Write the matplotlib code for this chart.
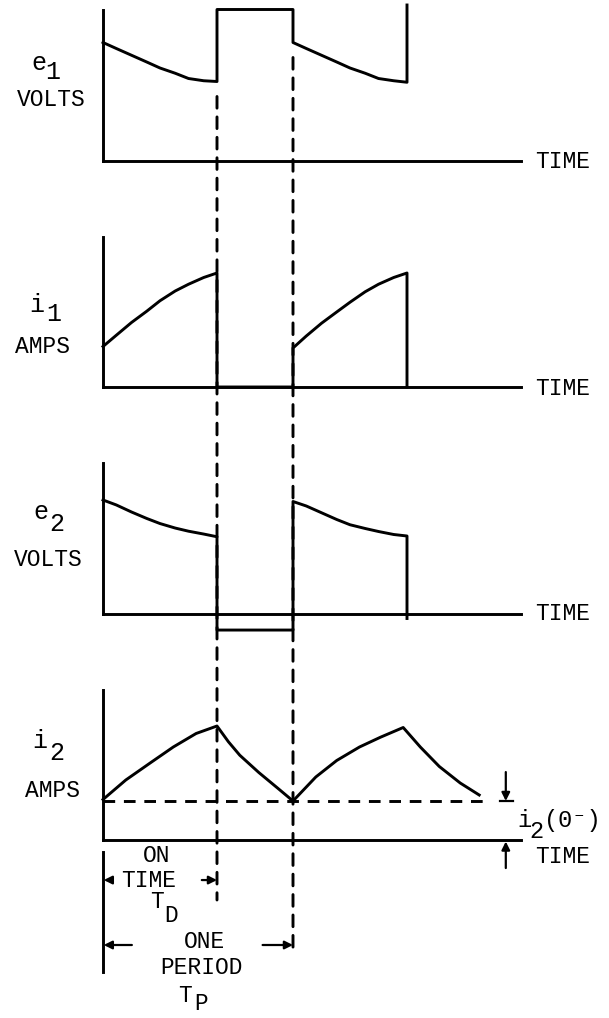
import matplotlib
matplotlib.use("Agg")
import matplotlib.pyplot as plt
from matplotlib.patches import ConnectionPatch

# typewriter look of the original figure
plt.rcParams['font.family'] = ['Liberation Mono', 'DejaVu Sans Mono']

# time axis (arbitrary units): on time T_D, one period T_P
T_D = 3.0
T_P = 5.0
T_END = 11.0

# sample times inside one on-time
t_on = [0, 0.35, 0.75, 1.15, 1.5, 1.9, 2.25, 2.65, 3.0]

# e1, volts
e1_on1 = [7.9, 7.5, 7.05, 6.6, 6.2, 5.85, 5.5, 5.35, 5.3]
e1_on2 = [7.9, 7.5, 7.05, 6.6, 6.2, 5.85, 5.5, 5.35, 5.25]
e1_high = 10.1

# i1, amps
i1_on1 = [2.7, 3.45, 4.3, 5.05, 5.75, 6.4, 6.85, 7.3, 7.6]
i1_on2 = [2.6, 3.4, 4.25, 5.0, 5.65, 6.35, 6.85, 7.3, 7.6]

# e2, volts
e2_on1 = [7.6, 7.27, 6.8, 6.37, 6.03, 5.73, 5.52, 5.33, 5.15]
e2_on2 = [7.5, 7.2, 6.75, 6.3, 5.95, 5.7, 5.5, 5.3, 5.2]
e2_low = -1.07

# i2, amps
i2_t = [0, 0.6, 1.25, 1.85, 2.45, 3.0, 3.3, 3.6, 4.1, 4.6, 5.0,
        5.6, 6.15, 6.75, 7.3, 7.9, 8.35, 8.85, 9.4, 9.9]
i2_v = [2.7, 4.0, 5.15, 6.2, 7.1, 7.6, 6.55, 5.65, 4.5, 3.45, 2.6,
        4.2, 5.3, 6.2, 6.85, 7.5, 6.2, 4.9, 3.8, 3.0]
i2_zero = 2.6   # i2(0-)
i2_dash_end = 10.1

# layout in output pixels
W, H = 609, 1018
PX_T = 38.0
PX_V = 15.0
T0_PX = 103
LW = 2.1
FS = 16.5     # small caps words
FS_SYM = 18   # e1, i1 ...


def panel(fig, top, bottom, base, axis_top):
    ax = fig.add_axes([0, 1 - bottom / H, 1, (bottom - top) / H])
    ax.set_xlim(-T0_PX / PX_T, (W - T0_PX) / PX_T)
    ax.set_ylim((base - bottom) / PX_V, (base - top) / PX_V)
    ax.patch.set_visible(False)
    ax.set_xticks([])
    ax.set_yticks([])
    for s in ['top', 'right']:
        ax.spines[s].set_visible(False)
    ax.spines['left'].set_position(('data', 0))
    ax.spines['bottom'].set_position(('data', 0))
    ax.spines['left'].set_bounds(0, axis_top)
    ax.spines['bottom'].set_bounds(0, T_END)
    for s in ['left', 'bottom']:
        ax.spines[s].set_linewidth(LW)
        ax.spines[s].set_capstyle('projecting')
    return ax


def sub_label(ax, main_xy, sub_xy, main, sub, fs=FS_SYM):
    ax.text(*main_xy, main, ha='center', va='center', fontsize=fs)
    ax.text(*sub_xy, sub, ha='center', va='center', fontsize=fs)


def pulse_trace(on1, on2, off_level, end_level):
    t = t_on + [T_D, T_P] + [T_P + x for x in t_on] + [T_P + T_D]
    v = on1 + [off_level, off_level] + on2 + [end_level]
    return t, v


fig = plt.figure(figsize=(W / 100, H / 100), dpi=100)

ax1 = panel(fig, 0, 225, 161, 10.07)
ax2 = panel(fig, 225, 450, 387, 10.0)
ax3 = panel(fig, 450, 675, 614, 10.07)
ax4 = panel(fig, 675, 1018, 840, 10.0)

# e1
t, v = pulse_trace(e1_on1, e1_on2, e1_high, 10.4)
ax1.plot(t, v, color='black', lw=LW, clip_on=False)
sub_label(ax1, (-1.68, 6.53), (-1.32, 5.93), 'e', '1')
ax1.text(-1.37, 4.07, 'VOLTS', ha='center', va='center', fontsize=FS)

# i1
t, v = pulse_trace(i1_on1, i1_on2, 0, 0)
ax2.plot(t, v, color='black', lw=LW)
sub_label(ax2, (-1.74, 5.47), (-1.29, 4.87), 'i', '1')
ax2.text(-1.6, 2.67, 'AMPS', ha='center', va='center', fontsize=FS)

# e2
t, v = pulse_trace(e2_on1, e2_on2, e2_low, -0.3)
ax3.plot(t, v, color='black', lw=LW)
sub_label(ax3, (-1.63, 6.8), (-1.21, 6.0), 'e', '2')
ax3.text(-1.45, 3.6, 'VOLTS', ha='center', va='center', fontsize=FS)

# i2
ax4.plot(i2_t, i2_v, color='black', lw=LW)
ax4.plot([0, i2_dash_end], [i2_zero, i2_zero], color='black', lw=LW,
         ls=(0, (4, 3)))
sub_label(ax4, (-1.66, 6.6), (-1.21, 5.8), 'i', '2')
ax4.text(-1.34, 3.33, 'AMPS', ha='center', va='center', fontsize=FS)

for ax, y in [(ax1, 0), (ax2, -0.07), (ax3, 0), (ax4, -1.13)]:
    ax.text(11.37, y, 'TIME', ha='left', va='center', fontsize=FS)

# i2(0-) marker
arrow = dict(arrowstyle='-|>', color='black', lw=1.6, mutation_scale=12,
             shrinkA=0, shrinkB=0)
ax4.annotate('', xy=(10.6, i2_zero), xytext=(10.6, 4.53), arrowprops=arrow)
ax4.plot([10.45, 10.79], [i2_zero, i2_zero], color='black', lw=1.6)
ax4.annotate('', xy=(10.6, -0.1), xytext=(10.6, -1.87), arrowprops=arrow)
ax4.text(11.08, 1.33, 'i', ha='center', va='center', fontsize=FS_SYM - 1)
ax4.text(11.4, 0.6, '2', ha='center', va='center', fontsize=FS_SYM - 1)
ax4.text(11.6, 1.27, '(0⁻)', ha='left', va='center', fontsize=FS_SYM - 1)

# on time / period annotations
ax4.plot([0, 0], [-0.8, -8.8], color='black', lw=LW)
ax4.text(1.42, -1.0, 'ON', ha='center', va='center', fontsize=FS)
ax4.text(1.21, -2.67, 'TIME', ha='center', va='center', fontsize=FS)
ax4.annotate('', xy=(0.02, -2.67), xytext=(0.25, -2.67), arrowprops=arrow)
ax4.annotate('', xy=(T_D, -2.67), xytext=(2.6, -2.67), arrowprops=arrow)
ax4.text(1.42, -4.07, 'T', ha='center', va='center', fontsize=FS)
ax4.text(1.78, -5.0, 'D', ha='center', va='center', fontsize=FS)
ax4.text(2.68, -6.8, 'ONE', ha='center', va='center', fontsize=FS)
ax4.annotate('', xy=(0.02, -7.0), xytext=(0.76, -7.0), arrowprops=arrow)
ax4.annotate('', xy=(T_P, -7.0), xytext=(4.2, -7.0), arrowprops=arrow)
ax4.text(2.58, -8.47, 'PERIOD', ha='center', va='center', fontsize=FS)
ax4.text(2.16, -10.4, 'T', ha='center', va='center', fontsize=FS)
ax4.text(2.57, -10.87, 'P', ha='center', va='center', fontsize=FS)

# dashed guides through all four traces
for x, top, bottom in [(T_D, 4.3, -4.0), (T_P, 6.9, -7.5)]:
    con = ConnectionPatch(xyA=(x, top), coordsA='data', axesA=ax1,
                          xyB=(x, bottom), coordsB='data', axesB=ax4,
                          color='black', lw=LW, ls=(0, (4, 3)))
    fig.add_artist(con)

fig.savefig('out.png', dpi=100)
